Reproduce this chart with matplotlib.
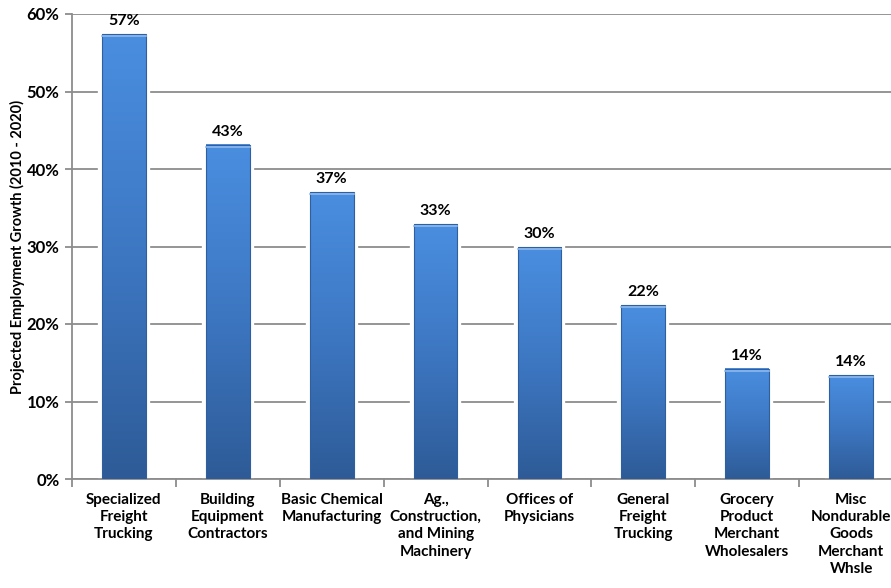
import numpy as np
import matplotlib.pyplot as plt
from matplotlib.colors import LinearSegmentedColormap

# data
categories = ["Specialized\nFreight\nTrucking", "Building\nEquipment\nContractors",
              "Basic Chemical\nManufacturing", "Ag.,\nConstruction,\nand Mining\nMachinery",
              "Offices of\nPhysicians", "General\nFreight\nTrucking",
              "Grocery\nProduct\nMerchant\nWholesalers",
              "Misc\nNondurable\nGoods\nMerchant\nWhsle"]
growth = [57.4, 43.1, 37.0, 32.9, 29.9, 22.4, 14.2, 13.4]
labels = ["57%", "43%", "37%", "33%", "30%", "22%", "14%", "14%"]
yticks = [0, 10, 20, 30, 40, 50, 60]

plt.rcParams['font.family'] = ['Lato', 'DejaVu Sans']
plt.rcParams['font.weight'] = 'bold'

fig = plt.figure(figsize=(8.91, 5.88), dpi=100)
ax = fig.add_axes([72 / 891, 109 / 588, 831 / 891, 465 / 588])

x = np.arange(len(categories))
width = 0.42
grad = LinearSegmentedColormap.from_list("bar", ["#2e5b97", "#3d77c2", "#4a8ee0"])
gimg = np.linspace(0, 1, 256).reshape(-1, 1)

# white halo behind the bars breaks the gridlines like in the original
bars = ax.bar(x, growth, width=width, color="white", edgecolor="white", linewidth=6, zorder=2)
for b in bars:
    x0, y0 = b.get_x(), b.get_y()
    ax.imshow(gimg, cmap=grad, origin="lower", aspect="auto",
              extent=[x0, x0 + b.get_width(), y0, y0 + b.get_height()], zorder=3)
    ax.add_patch(plt.Rectangle((x0, y0), b.get_width(), b.get_height(), fill=False,
                               edgecolor="#2f5f9f", linewidth=0.8, zorder=4))
    ax.plot([x0, x0 + b.get_width()], [b.get_height() - 0.25] * 2, color="#8fb8ec",
            linewidth=1.2, zorder=5)

for xi, v, lab in zip(x, growth, labels):
    ax.text(xi, v + 0.8, lab, ha="center", va="bottom", fontsize=11.5, fontweight="bold")

ax.set_xlim(-0.5, len(categories) - 0.5)
ax.set_ylim(0, 60)
ax.set_yticks(yticks)
ax.set_yticklabels([f"{t}%" for t in yticks], fontsize=12, fontweight="bold")
ax.yaxis.grid(True, color="#8c8c8c", linewidth=1.3, zorder=0)
ax.set_axisbelow(True)

ax.set_xticks(np.arange(len(categories) + 1) - 0.5)
ax.set_xticklabels([])
ax.set_xticks(x, minor=True)
ax.set_xticklabels(categories, minor=True, fontsize=11, fontweight="bold", linespacing=1.3)
ax.tick_params(axis="x", which="minor", length=0, pad=10)
ax.tick_params(axis="x", which="major", length=6, color="#8c8c8c", width=1.3, direction="out")
ax.tick_params(axis="y", length=5, color="#8c8c8c", width=1.3, pad=4)

for s in ["top", "right"]:
    ax.spines[s].set_visible(False)
for s in ["left", "bottom"]:
    ax.spines[s].set_color("#8c8c8c")
    ax.spines[s].set_linewidth(1.3)

ax.set_ylabel("Projected Employment Growth (2010 - 2020)", fontsize=10.5, fontweight="bold",
              va="center")
ax.yaxis.set_label_coords(-55 / 831, 0.5)

fig.savefig("out.png", dpi=100)
